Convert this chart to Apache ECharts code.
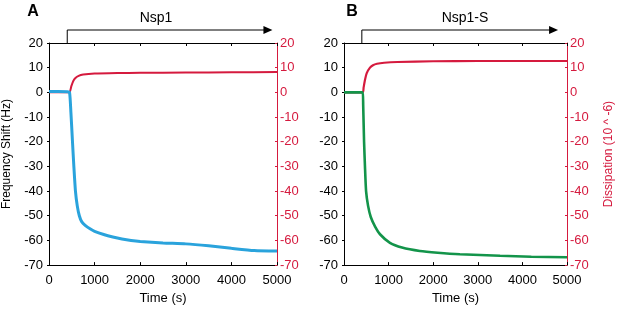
<!DOCTYPE html>
<html>
<head>
<meta charset="utf-8">
<script src="https://cdn.jsdelivr.net/npm/echarts@6/dist/echarts.min.js"></script>
<style>
  html, body { margin: 0; padding: 0; background: #fff; }
  #chart { width: 617px; height: 310px; }
</style>
</head>
<body>
<div id="chart"></div>
<script>
// panel A (Nsp1)
const timeFreqA = [0, 200, 400, 450, 480, 515, 545, 580, 620, 665, 720, 800, 900, 1000, 1200, 1400, 1600, 1800, 2000, 2500, 3000, 3500, 4000, 4500, 5000];
const freqA =     [0.3, 0.3, 0.2, 0, -8, -20, -30, -40, -46, -50, -52.5, -54, -55.3, -56.3, -57.6, -58.6, -59.4, -60, -60.4, -61, -61.4, -62.2, -63.2, -64.1, -64.3];
const timeDissA = [0, 400, 450, 490, 530, 580, 650, 750, 1000, 1500, 2000, 3000, 4000, 5000];
const dissA =     [0, 0, 0, 2.5, 4.5, 5.8, 6.7, 7.2, 7.6, 7.8, 7.9, 8, 8.1, 8.2];

// panel B (Nsp1-S)
const timeFreqB = [0, 420, 430, 450, 470, 495, 540, 600, 700, 807, 1030, 1300, 1700, 2100, 2600, 3500, 4200, 5000];
const freqB =     [0, 0, -5, -20, -30, -40, -46, -50.5, -54.5, -57.5, -61, -62.9, -64.3, -65, -65.6, -66.2, -66.6, -66.8];
const timeDissB = [0, 420, 440, 470, 510, 583, 650, 740, 900, 1200, 2000, 3000, 5000];
const dissB =     [0, 0, 2, 5, 7.8, 10, 11, 11.6, 12, 12.3, 12.6, 12.7, 12.7];

const panelLetters = ['A', 'B'];
const panelTitles = ['Nsp1', 'Nsp1-S'];
const injectTime = 400;
const arrowEnd = [4900, 4800];

const blue = '#2aa3dc';
const green = '#13944a';
const red = '#d51a3e';
const font = 'Liberation Sans, Arial, Helvetica, sans-serif';

const zip = (a, b) => a.map((t, i) => [t, b[i]]);
const plain = v => String(v);

function xBottom(gridIndex) {
  return {
    type: 'value', gridIndex: gridIndex, position: 'bottom',
    min: 0, max: 5000, interval: 1000,
    name: 'Time (s)', nameLocation: 'middle', nameGap: 26,
    nameTextStyle: { color: '#000', fontSize: 13, fontFamily: font },
    axisLine: { onZero: false, lineStyle: { color: '#000', width: 1 } },
    axisTick: { inside: true, length: 3, lineStyle: { color: '#000' } },
    axisLabel: { color: '#000', fontSize: 13, fontFamily: font, margin: 9, formatter: plain },
    splitLine: { show: false }
  };
}
function xTop(gridIndex) {
  return {
    type: 'value', gridIndex: gridIndex, position: 'top',
    min: 0, max: 5000, interval: 1000,
    axisLine: { onZero: false, lineStyle: { color: '#000', width: 1 } },
    axisTick: { inside: true, length: 3, lineStyle: { color: '#000' } },
    axisLabel: { show: false },
    splitLine: { show: false }
  };
}
function yLeft(gridIndex, name) {
  return {
    type: 'value', gridIndex: gridIndex, position: 'left',
    min: -70, max: 20, interval: 10,
    name: name, nameLocation: 'middle', nameGap: 36, nameRotate: 90,
    nameTextStyle: { color: '#000', fontSize: 12, fontFamily: font },
    axisLine: { show: true, onZero: false, lineStyle: { color: '#000', width: 1 } },
    axisTick: { show: true, length: 2, lineStyle: { color: '#000' } },
    axisLabel: { color: '#000', fontSize: 13, fontFamily: font, margin: 6 },
    splitLine: { show: false }
  };
}
function yRight(gridIndex, name) {
  return {
    type: 'value', gridIndex: gridIndex, position: 'right',
    min: -70, max: 20, interval: 10,
    name: name, nameLocation: 'middle', nameGap: 36, nameRotate: 90,
    nameTextStyle: { color: red, fontSize: 12, fontFamily: font },
    axisLine: { show: true, onZero: false, lineStyle: { color: red, width: 1 } },
    axisTick: { show: true, inside: true, length: 2, lineStyle: { color: red } },
    axisLabel: { color: red, fontSize: 13, fontFamily: font, margin: 3 },
    splitLine: { show: false }
  };
}

function line(xi, yi, data, color, width) {
  return {
    type: 'line', xAxisIndex: xi, yAxisIndex: yi,
    data: data, showSymbol: false, smooth: 0.2, animation: false,
    lineStyle: { color: color, width: width }
  };
}

const chart = echarts.init(document.getElementById('chart'), null, { renderer: 'canvas' });

const option = {
  backgroundColor: '#ffffff',
  animation: false,
  grid: [
    { left: 44, right: 340, top: 43, bottom: 42 },
    { left: 344, right: 50, top: 43, bottom: 43 }
  ],
  xAxis: [xBottom(0), xTop(0), xBottom(1), xTop(1)],
  yAxis: [yLeft(0, 'Frequency Shift (Hz)'), yRight(0, ''), yLeft(1, ''), yRight(1, 'Dissipation (10 ^ -6)')],
  series: [
    line(0, 1, zip(timeDissA, dissA), red, 2),
    line(0, 0, zip(timeFreqA, freqA), blue, 3),
    line(2, 3, zip(timeDissB, dissB), red, 2.2),
    line(2, 2, zip(timeFreqB, freqB), green, 2.6)
  ]
};
chart.setOption(option);

// panel letters, titles and injection arrows
const graphics = [];
const arrowY = 30;
[0, 2].forEach(function (xi, p) {
  const yi = p === 0 ? 0 : 2;
  const x0 = chart.convertToPixel({ xAxisIndex: xi }, injectTime);
  const x1 = chart.convertToPixel({ xAxisIndex: xi }, arrowEnd[p]);
  const top = chart.convertToPixel({ yAxisIndex: yi }, 20);
  graphics.push({
    type: 'polyline', silent: true,
    shape: { points: [[x0, top], [x0, arrowY], [x1 - 6, arrowY]] },
    style: { stroke: '#000', lineWidth: 1, fill: null }
  });
  graphics.push({
    type: 'polygon', silent: true,
    shape: { points: [[x1 - 9, arrowY - 4], [x1, arrowY], [x1 - 9, arrowY + 4]] },
    style: { fill: '#000' }
  });
});
const letterX = [33, 352];
const titleX = [156, 465];
panelLetters.forEach(function (l, p) {
  graphics.push({
    type: 'text', silent: true, x: letterX[p], y: 12,
    style: { text: l, fill: '#000', font: 'bold 16px ' + font, align: 'center', verticalAlign: 'middle' }
  });
  graphics.push({
    type: 'text', silent: true, x: titleX[p], y: 18,
    style: { text: panelTitles[p], fill: '#000', font: '14px ' + font, align: 'center', verticalAlign: 'middle' }
  });
});
chart.setOption({ graphic: graphics });
</script>
</body>
</html>
